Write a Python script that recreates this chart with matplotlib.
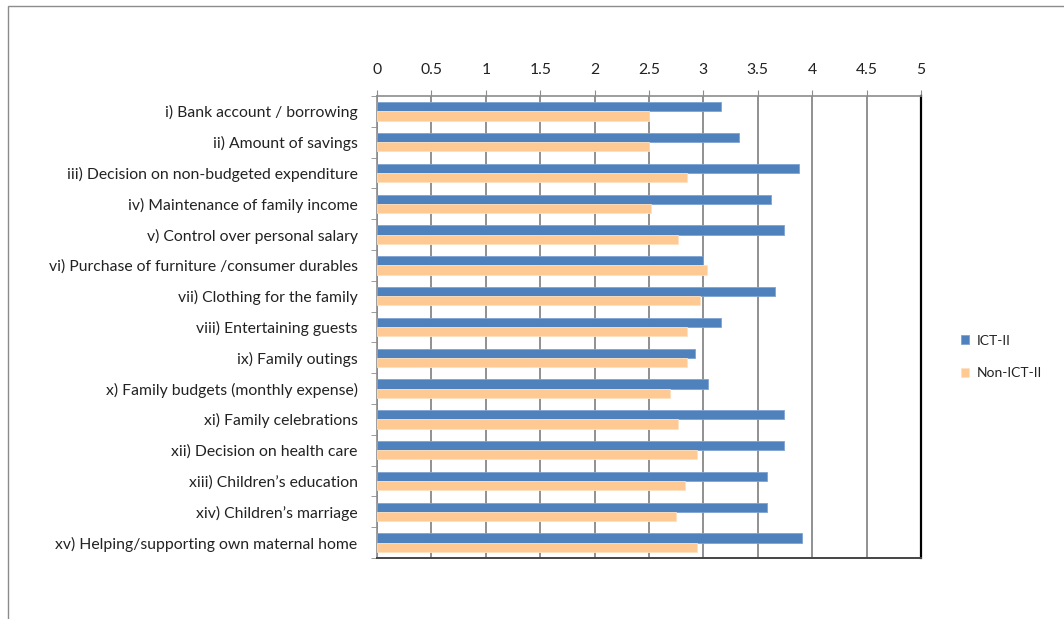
import matplotlib
matplotlib.use("Agg")
import matplotlib.pyplot as plt
import numpy as np
from matplotlib.patches import Rectangle

plt.rcParams['font.family'] = ['Lato', 'DejaVu Sans']

categories = [
    "i) Bank account / borrowing",
    "ii) Amount of savings",
    "iii) Decision on non-budgeted expenditure",
    "iv) Maintenance of family income",
    "v) Control over personal salary",
    "vi) Purchase of furniture /consumer durables",
    "vii) Clothing for the family",
    "viii) Entertaining guests",
    "ix) Family outings",
    "x) Family budgets (monthly expense)",
    "xi) Family celebrations",
    "xii) Decision on health care",
    "xiii) Children\u2019s education",
    "xiv) Children\u2019s marriage",
    "xv) Helping/supporting own maternal home",
]
ict = [3.16, 3.33, 3.88, 3.62, 3.74, 3.00, 3.66, 3.16, 2.92, 3.04, 3.74, 3.74, 3.58, 3.58, 3.91]
non_ict = [2.50, 2.50, 2.85, 2.52, 2.77, 3.03, 2.97, 2.85, 2.85, 2.69, 2.77, 2.94, 2.83, 2.75, 2.94]
x_ticks = [0, 0.5, 1, 1.5, 2, 2.5, 3, 3.5, 4, 4.5, 5]
x_tick_labels = ["0", "0.5", "1", "1.5", "2", "2.5", "3", "3.5", "4", "4.5", "5"]
series_names = ["ICT-II", "Non-ICT-II"]

W, H = 1064, 619
fig = plt.figure(figsize=(W / 100, H / 100), dpi=100)

# outer chart border
fig.patches.append(Rectangle((8 / W, -0.05), 1.2, (H - 6) / H + 0.05,
                             transform=fig.transFigure, fill=False,
                             edgecolor='#8c8c8c', linewidth=1.0))

left, right, top, bottom = 377, 921, 96, 558
ax = fig.add_axes([left / W, 1 - bottom / H, (right - left) / W, (bottom - top) / H])

n = len(categories)
y = np.arange(n)
h = 0.30
ax.barh(y - h / 2, ict, height=h, color='#4F81BD', edgecolor='#7FA3D3',
        linewidth=0.6, label=series_names[0], zorder=3)
ax.barh(y + h / 2, non_ict, height=h, color='#FFC993', edgecolor='#FFE0C0',
        linewidth=0.6, label=series_names[1], zorder=3)

ax.set_xlim(0, 5)
ax.set_ylim(n - 0.5, -0.5)
ax.set_yticks(y)
ax.set_yticklabels(categories, fontsize=11.3, color='#222222')
ax.set_yticks(np.arange(-0.5, n, 1), minor=True)
ax.tick_params(axis='y', which='major', length=0, pad=14)
ax.tick_params(axis='y', which='minor', length=4, color='#8c8c8c', direction='out')

ax.xaxis.tick_top()
ax.set_xticks(x_ticks)
ax.set_xticklabels(x_tick_labels, fontsize=11.3, color='#222222')
ax.tick_params(axis='x', which='major', length=4, color='#8c8c8c', pad=10)

ax.grid(axis='x', color='#888888', linewidth=1.3, zorder=0)
ax.set_axisbelow(True)

for s in ['left', 'top']:
    ax.spines[s].set_color('#8c8c8c')
    ax.spines[s].set_linewidth(1.2)
ax.spines['right'].set_color('black')
ax.spines['right'].set_linewidth(1.6)
ax.spines['bottom'].set_color('#444444')
ax.spines['bottom'].set_linewidth(1.4)

leg = fig.legend(loc='center left', bbox_to_anchor=(948 / W, 1 - 357 / H),
                 frameon=False, fontsize=10, handlelength=0.6, handleheight=0.6,
                 labelspacing=1.5, handletextpad=0.6)
for t in leg.get_texts():
    t.set_color('#222222')

fig.savefig("out.png", dpi=100)
